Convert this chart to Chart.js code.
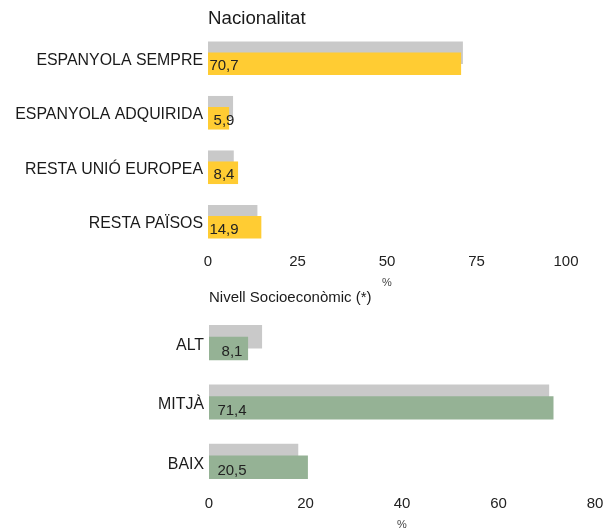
<!DOCTYPE html>
<html><head><meta charset="utf-8">
<script src="https://cdn.jsdelivr.net/npm/chart.js@4/dist/chart.umd.min.js"></script>
<style>
html,body{margin:0;padding:0;background:#fff;overflow:hidden;width:603px;height:529px;position:relative;}
#c1{position:absolute;left:0;top:0;}
#c2{position:absolute;left:0;top:290px;}
</style></head><body>
<canvas id="c1" width="603" height="290" style="width:603px;height:290px"></canvas>
<canvas id="c2" width="620" height="242" style="width:620px;height:242px"></canvas>
<script>
const nacTitle = 'Nacionalitat';
const nacCategories = ['ESPANYOLA SEMPRE', 'ESPANYOLA ADQUIRIDA', 'RESTA UNIÓ EUROPEA', 'RESTA PAÏSOS'];
const nacReference = [71.2, 7.0, 7.2, 13.8];
const nacValues = [70.7, 5.9, 8.4, 14.9];
const nacTicks = [0, 25, 50, 75, 100];

const nseTitle = 'Nivell Socioeconòmic (*)';
const nseCategories = ['ALT', 'MITJÀ', 'BAIX'];
const nseReference = [11.0, 70.5, 18.5];
const nseValues = [8.1, 71.4, 20.5];
const nseTicks = [0, 20, 40, 60, 80];

const FONT = "'Liberation Sans', Arial, Helvetica, sans-serif";
const GREY = '#c9c9c9';
const YELLOW = '#ffcc33';
const GREEN = '#95b295';

const forwardDraw = {
  id: 'forwardDraw',
  beforeDatasetsDraw(chart) {
    const metas = chart.getSortedVisibleDatasetMetas();
    const ctx = chart.ctx;
    ctx.save();
    for (const m of metas) m.controller.draw();
    ctx.restore();
    return false;
  }
};

function makeTextPlugin(title, titleSize, titleBaseline, labelOffset, labelDy) {
  return {
    id: 'texts',
    afterDraw(chart) {
      const ctx = chart.ctx;
      const area = chart.chartArea;
      ctx.save();
      ctx.fillStyle = '#1a1a1a';
      ctx.font = titleSize + 'px ' + FONT;
      ctx.textAlign = 'left';
      ctx.textBaseline = 'alphabetic';
      ctx.fillText(title, area.left, titleBaseline);
      const ds = chart.data.datasets[1];
      const meta = chart.getDatasetMeta(1);
      ctx.font = '15px ' + FONT;
      ctx.textAlign = 'center';
      ctx.textBaseline = 'middle';
      ctx.fillStyle = '#222';
      meta.data.forEach((bar, i) => {
        const txt = ds.data[i].toFixed(1).replace('.', ',');
        ctx.fillText(txt, bar.base + labelOffset, bar.y + labelDy);
      });
      ctx.restore();
    }
  };
}

function buildChart(canvas, cfg) {
  return new Chart(canvas, {
    type: 'bar',
    data: {
      labels: cfg.categories,
      datasets: [
        { data: cfg.reference, backgroundColor: GREY, borderWidth: 0,
          categoryPercentage: cfg.cp, barPercentage: cfg.bp },
        { data: cfg.values, backgroundColor: cfg.color, borderWidth: 0,
          categoryPercentage: cfg.cp, barPercentage: cfg.bp }
      ]
    },
    options: {
      indexAxis: 'y',
      responsive: false,
      animation: false,
      devicePixelRatio: 1,
      layout: { padding: { top: cfg.padTop, right: cfg.padRight, left: 0, bottom: 0 } },
      plugins: { legend: { display: false }, title: { display: false }, tooltip: { enabled: false } },
      scales: {
        y: {
          type: 'category',
          grid: { display: false, drawTicks: false },
          border: { display: false },
          ticks: { color: '#1a1a1a', font: { family: FONT, size: 15.9 }, padding: 5, labelOffset: cfg.catDy },
          afterFit: s => { s.width = cfg.left; }
        },
        x: {
          type: 'linear',
          min: cfg.ticks[0],
          max: cfg.ticks[cfg.ticks.length - 1],
          grid: { display: false, drawTicks: false },
          border: { display: false },
          afterBuildTicks: s => { s.ticks = cfg.ticks.map(v => ({ value: v })); },
          ticks: { color: '#222', font: { family: FONT, size: 15 }, padding: cfg.tickPad, maxRotation: 0 },
          title: { display: true, text: '%', color: '#444', font: { family: FONT, size: 11 }, padding: 0 },
          afterFit: s => { s.height = cfg.axisH; }
        }
      }
    },
    plugins: [forwardDraw, makeTextPlugin(cfg.title, cfg.titleSize, cfg.titleBaseline, cfg.labelOffset, cfg.labelDy)]
  });
}

buildChart(document.getElementById('c1'), {
  categories: nacCategories, reference: nacReference, values: nacValues, ticks: nacTicks,
  color: YELLOW, cp: 0.404, bp: 2.05, padTop: 31, padRight: 37, left: 208, axisH: 41, tickPad: 4,
  title: nacTitle, titleSize: 18.7, titleBaseline: 24, labelOffset: 16, labelDy: 2.5, catDy: 2
});

buildChart(document.getElementById('c2'), {
  categories: nseCategories, reference: nseReference, values: nseValues, ticks: nseTicks,
  color: GREEN, cp: 0.395, bp: 2.0, padTop: 23, padRight: 25, left: 209, axisH: 41, tickPad: 4,
  title: nseTitle, titleSize: 15, titleBaseline: 12, labelOffset: 23, labelDy: 3.5, catDy: 3
});
</script>
</body></html>
